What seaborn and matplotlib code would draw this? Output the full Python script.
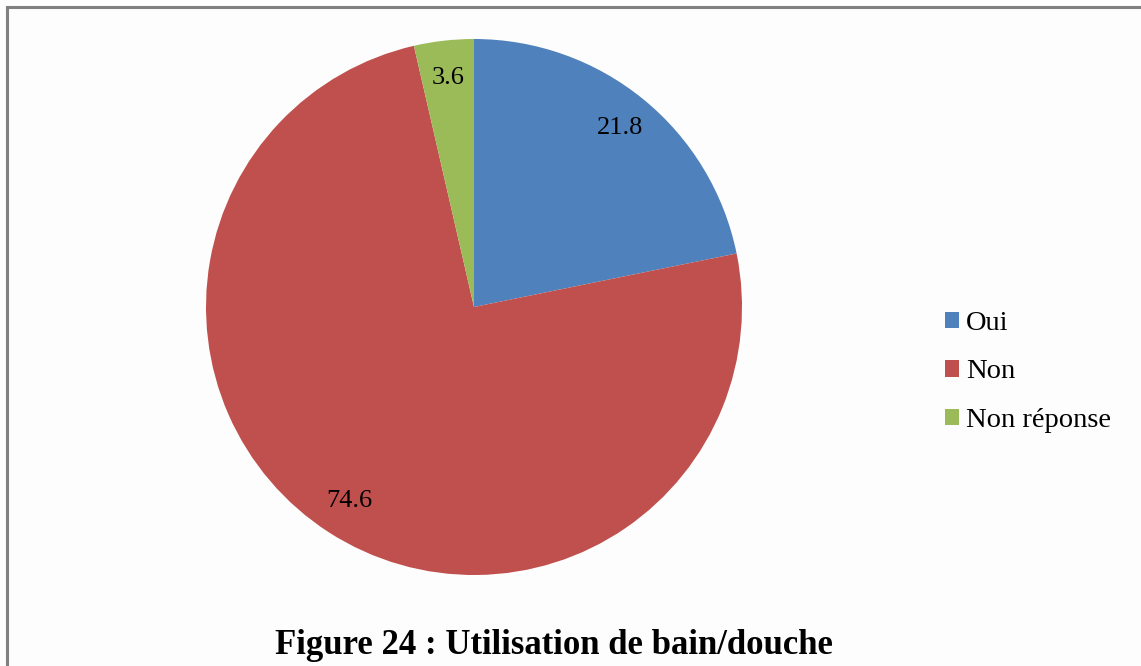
import matplotlib
matplotlib.use("Agg")
import matplotlib.pyplot as plt
from matplotlib.patches import Rectangle
import seaborn as sns

# Utilisation de bain/douche (%)
categories = ["Oui", "Non", "Non réponse"]
values = [21.8, 74.6, 3.6]
colors = ["#4F81BD", "#C0504D", "#9BBB59"]

sns.set_theme(style="white")
plt.rcParams["font.family"] = ["Liberation Serif", "DejaVu Serif"]
plt.rcParams["text.color"] = "black"

W, H = 1141, 666
fig = plt.figure(figsize=(W / 100, H / 100), dpi=100)
fig.patch.set_facecolor("#FDFDFD")

# pie centre at (474, 307) px, radius 268 px
cx, cy, r = 474, 307, 268
ax = fig.add_axes([(cx - r) / W, (H - cy - r) / H, 2 * r / W, 2 * r / H])

wedges, texts, autotexts = ax.pie(
    values, colors=colors, startangle=90, counterclock=False,
    autopct=lambda p: f"{p:.1f}", pctdistance=0.86,
    wedgeprops=dict(linewidth=0),
    textprops=dict(fontsize=19, color="black"),
)
ax.set_xlim(-1, 1)
ax.set_ylim(-1, 1)
ax.axis("off")

fig.legend(wedges, categories, loc="center left",
           bbox_to_anchor=(945 / W, 1 - 372 / H), frameon=False,
           fontsize=20.5, handlelength=0.5, handleheight=0.5,
           handletextpad=0.25, labelspacing=0.82,
           borderpad=0, borderaxespad=0)

fig.text(554 / W, 1 - 645 / H, "Figure 24 : Utilisation de bain/douche",
         ha="center", va="center", fontsize=25, fontweight="bold")

# outer frame
fig.patches.append(Rectangle((7 / W, -0.1), 1.1, 1 - 7 / H + 0.1,
                             transform=fig.transFigure, fill=False,
                             edgecolor="#808080", linewidth=2.2))

fig.savefig("out.png", dpi=100, facecolor=fig.get_facecolor())
